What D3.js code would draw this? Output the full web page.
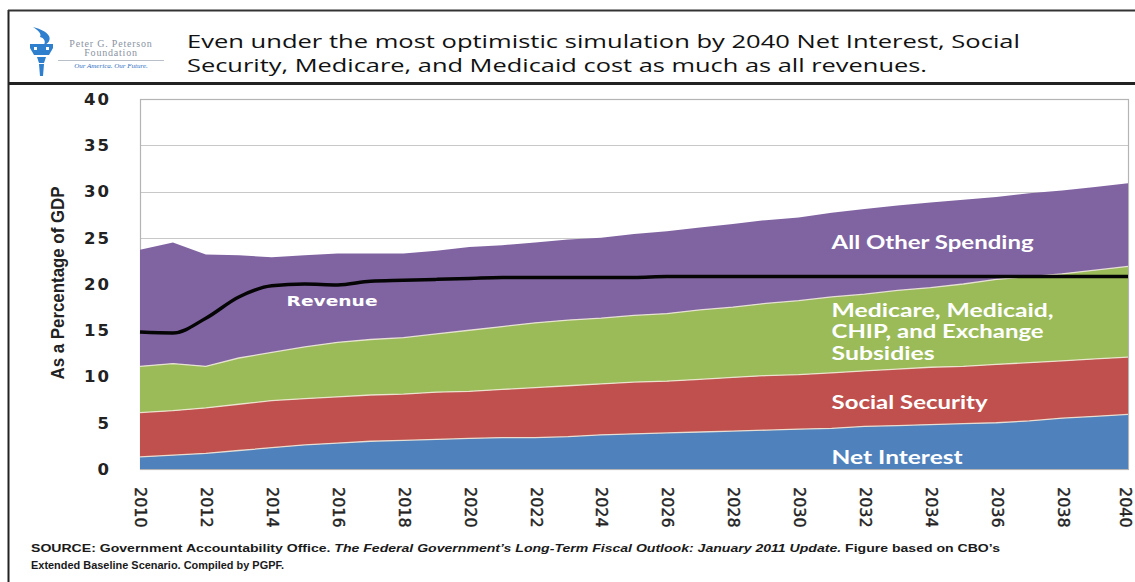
<!DOCTYPE html>
<html>
<head>
<meta charset="utf-8">
<script src="https://cdn.jsdelivr.net/npm/d3@7"></script>
<style>
  body { margin: 0; background: #ffffff; }
  svg { display: block; }
</style>
</head>
<body>
<svg id="chart" width="1135" height="582"></svg>
<script>
// Fiscal years on the horizontal axis
const years = [2010, 2011, 2012, 2013, 2014, 2015, 2016, 2017, 2018, 2019, 2020,
               2021, 2022, 2023, 2024, 2025, 2026, 2027, 2028, 2029, 2030,
               2031, 2032, 2033, 2034, 2035, 2036, 2037, 2038, 2039, 2040];

// Spending components, percent of GDP (stacked bottom to top)
const netInterest    = [1.3, 1.5, 1.7, 2.0, 2.3, 2.6, 2.8, 3.0, 3.1, 3.2, 3.3,
                        3.4, 3.4, 3.5, 3.7, 3.8, 3.9, 4.0, 4.1, 4.2, 4.3,
                        4.4, 4.6, 4.7, 4.8, 4.9, 5.0, 5.2, 5.5, 5.7, 5.9];
const socialSecurity = [4.8, 4.8, 4.9, 5.0, 5.1, 5.0, 5.0, 5.0, 5.0, 5.1, 5.1,
                        5.2, 5.4, 5.5, 5.5, 5.6, 5.6, 5.7, 5.8, 5.9, 5.9,
                        6.0, 6.0, 6.1, 6.2, 6.2, 6.3, 6.3, 6.2, 6.2, 6.2];
const healthPrograms = [5.0, 5.1, 4.5, 5.0, 5.2, 5.6, 5.9, 6.0, 6.1, 6.3, 6.6,
                        6.8, 7.0, 7.1, 7.1, 7.2, 7.3, 7.5, 7.6, 7.8, 8.0,
                        8.2, 8.3, 8.5, 8.6, 8.9, 9.2, 9.3, 9.4, 9.6, 9.8];
const otherSpending  = [12.6, 13.1, 12.1, 11.1, 10.3, 9.9, 9.6, 9.3, 9.1, 9.0, 9.0,
                        8.8, 8.7, 8.7, 8.7, 8.8, 8.9, 8.9, 9.0, 9.0, 9.0,
                        9.1, 9.2, 9.2, 9.2, 9.1, 8.9, 9.0, 9.0, 9.0, 9.0];

// Total federal revenue, percent of GDP
const revenue = [14.8, 14.7, 16.3, 18.6, 19.8, 20.0, 19.9, 20.3, 20.4, 20.5, 20.6,
                 20.7, 20.7, 20.7, 20.7, 20.7, 20.8, 20.8, 20.8, 20.8, 20.8,
                 20.8, 20.8, 20.8, 20.8, 20.8, 20.8, 20.8, 20.8, 20.8, 20.8];

const yTicks = [0, 5, 10, 15, 20, 25, 30, 35, 40];
const xTicks = [2010, 2012, 2014, 2016, 2018, 2020, 2022, 2024, 2026, 2028,
                2030, 2032, 2034, 2036, 2038, 2040];

const seriesKeys   = ["netInterest", "socialSecurity", "healthPrograms", "otherSpending"];
const seriesColors = ["#4f81bd", "#c0504d", "#9bbb59", "#8064a2"];

const table = years.map((yr, i) => ({
  year: yr,
  netInterest: netInterest[i],
  socialSecurity: socialSecurity[i],
  healthPrograms: healthPrograms[i],
  otherSpending: otherSpending[i]
}));

const svg = d3.select("#chart");

const plot = { left: 140, right: 1128, top: 99, bottom: 469 };
const x = d3.scaleLinear().domain([2010, 2040]).range([plot.left, plot.right]);
const y = d3.scaleLinear().domain([0, 40]).range([plot.bottom, plot.top]);

// ---- outer frame and header ----
svg.append("line").attr("x1", 8.5).attr("x2", 8.5).attr("y1", 10).attr("y2", 582)
  .attr("stroke", "#222").attr("stroke-width", 2);
svg.append("line").attr("x1", 8).attr("x2", 1135).attr("y1", 10.5).attr("y2", 10.5)
  .attr("stroke", "#333").attr("stroke-width", 2);
svg.append("line").attr("x1", 8).attr("x2", 1135).attr("y1", 83.5).attr("y2", 83.5)
  .attr("stroke", "#222").attr("stroke-width", 3);

// foundation mark: torch
const logo = svg.append("g").attr("fill", "#2f7fcf");
logo.append("path").attr("d",
  "M33,27 C40,29 46,31 49,36 C51,40 48,44 44,45 C46,41 44,38 40,37 C42,34 38,30 33,27 Z");
logo.append("path").attr("d",
  "M30,44 L53,44 L53,48 L49,55 L34,55 L30,48 Z");
logo.append("path").attr("d",
  "M37,57 L46,57 L44,63 L39,63 Z");
logo.append("path").attr("d",
  "M39,64 L44,64 L43,76 L40,76 Z");
logo.append("rect").attr("x", 34).attr("y", 47).attr("width", 3).attr("height", 3).attr("fill", "#fff");
logo.append("rect").attr("x", 46).attr("y", 47).attr("width", 3).attr("height", 3).attr("fill", "#fff");

const logoText = svg.append("g").attr("text-anchor", "middle");
logoText.append("text").attr("x", 111).attr("y", 47)
  .attr("font-family", "Liberation Serif, serif").attr("font-size", 10)
  .attr("fill", "#8a93a2").attr("letter-spacing", 0.8).text("Peter G. Peterson");
logoText.append("text").attr("x", 111).attr("y", 56)
  .attr("font-family", "Liberation Serif, serif").attr("font-size", 10)
  .attr("fill", "#8a93a2").attr("letter-spacing", 0.8).text("Foundation");
svg.append("line").attr("x1", 58).attr("x2", 164).attr("y1", 60.5).attr("y2", 60.5)
  .attr("stroke", "#9aa3b0").attr("stroke-width", 0.7);
logoText.append("text").attr("x", 111).attr("y", 68)
  .attr("font-family", "Liberation Serif, serif").attr("font-size", 7).attr("font-style", "italic")
  .attr("fill", "#2f6fbf").text("Our America. Our Future.");

// title
const title = svg.append("g")
  .attr("font-family", "Open Sans, Noto Sans, sans-serif")
  .attr("font-size", 19).attr("fill", "#111");
title.append("text").attr("x", 187).attr("y", 48)
  .attr("textLength", 833).attr("lengthAdjust", "spacingAndGlyphs")
  .text("Even under the most optimistic simulation by 2040 Net Interest, Social");
title.append("text").attr("x", 187).attr("y", 72)
  .attr("textLength", 740).attr("lengthAdjust", "spacingAndGlyphs")
  .text("Security, Medicare, and Medicaid cost as much as all revenues.");

// ---- gridlines and plot border ----
svg.append("g").selectAll("line")
  .data(yTicks.filter(d => d > 0 && d < 40))
  .join("line")
  .attr("x1", plot.left).attr("x2", plot.right)
  .attr("y1", d => Math.round(y(d)) + 0.5).attr("y2", d => Math.round(y(d)) + 0.5)
  .attr("stroke", "#c8c8c8").attr("stroke-width", 1.2);

svg.append("rect")
  .attr("x", plot.left + 0.5).attr("y", plot.top + 0.5)
  .attr("width", plot.right - plot.left).attr("height", plot.bottom - plot.top)
  .attr("fill", "none").attr("stroke", "#b4b4b4").attr("stroke-width", 1.2);

// ---- stacked areas ----
const stacked = d3.stack().keys(seriesKeys)(table);

const area = d3.area()
  .x(d => x(d.data.year))
  .y0(d => y(d[0]))
  .y1(d => y(d[1]));

svg.append("g").selectAll("path")
  .data(stacked)
  .join("path")
  .attr("d", area)
  .attr("fill", (d, i) => seriesColors[i]);

// light seams between layers
const topLine = d3.line().x(d => x(d.data.year)).y(d => y(d[1]));
svg.append("g").selectAll("path")
  .data(stacked.slice(0, 3))
  .join("path")
  .attr("d", topLine)
  .attr("fill", "none")
  .attr("stroke", "#f2ecdc")
  .attr("stroke-opacity", 0.85)
  .attr("stroke-width", 1.3);

// ---- revenue line ----
const revLine = d3.line()
  .x((d, i) => x(years[i]))
  .y(d => y(d))
  .curve(d3.curveMonotoneX);
svg.append("path")
  .datum(revenue)
  .attr("d", revLine)
  .attr("fill", "none")
  .attr("stroke", "#050505")
  .attr("stroke-width", 3.5)
  .attr("stroke-linejoin", "round");

// ---- axes ----
const yAxis = svg.append("g")
  .attr("transform", `translate(${plot.left},0)`)
  .call(d3.axisLeft(y).tickValues(yTicks).tickSize(0).tickPadding(29));
yAxis.select(".domain").remove();
yAxis.selectAll("text")
  .attr("font-family", "DejaVu Sans, Verdana, sans-serif")
  .attr("font-weight", "bold")
  .attr("font-size", 16.5)
  .attr("letter-spacing", 2)
  .attr("fill", "#222");

const xAxis = svg.append("g")
  .attr("transform", `translate(0,${plot.bottom})`)
  .call(d3.axisBottom(x).tickValues(xTicks).tickFormat(d3.format("d")).tickSize(0));
xAxis.select(".domain").remove();
xAxis.selectAll("text")
  .attr("transform", "rotate(90)")
  .attr("x", 18)
  // keep the last year label inside the right edge
  .attr("y", d => d === 2040 ? 3 : 0)
  .attr("dy", "0.32em")
  .attr("text-anchor", "start")
  .attr("font-family", "DejaVu Sans, Verdana, sans-serif")
  .attr("font-size", 16)
  .attr("stroke", "#222").attr("stroke-width", 0.4)
  .attr("fill", "#222");

svg.append("text")
  .attr("transform", "translate(64,283) rotate(-90)")
  .attr("text-anchor", "middle")
  .attr("font-family", "Liberation Sans Narrow, Liberation Sans, Arial, sans-serif")
  .attr("font-weight", "bold")
  .attr("font-size", 18)
  .attr("fill", "#222")
  .attr("textLength", 193).attr("lengthAdjust", "spacingAndGlyphs")
  .text("As a Percentage of GDP");

// ---- in-chart labels ----
const labels = [
  { text: "Revenue",              yr: 2014.45, v: 18.2, w: 91,  font: "DejaVu Sans, Verdana, sans-serif", size: 14 },
  { text: "All Other Spending",   yr: 2031,    v: 24.5, w: 202, font: "Lato, Open Sans, sans-serif", size: 18 },
  { text: "Medicare, Medicaid,",  yr: 2031,    v: 17.1, w: 222, font: "Lato, Open Sans, sans-serif", size: 18 },
  { text: "CHIP, and Exchange",   yr: 2031,    v: 14.8, w: 212, font: "Lato, Open Sans, sans-serif", size: 18 },
  { text: "Subsidies",            yr: 2031,    v: 12.5, w: 103, font: "Lato, Open Sans, sans-serif", size: 18 },
  { text: "Social Security",      yr: 2031,    v: 7.2,  w: 156, font: "Lato, Open Sans, sans-serif", size: 18 },
  { text: "Net Interest",         yr: 2031,    v: 1.2,  w: 131, font: "Lato, Open Sans, sans-serif", size: 18 }
];
svg.append("g").selectAll("text")
  .data(labels)
  .join("text")
  .attr("x", d => x(d.yr))
  .attr("y", d => y(d.v))
  .attr("dy", "0.35em")
  .attr("font-family", d => d.font)
  .attr("font-size", d => d.size)
  .attr("font-weight", "bold")
  .attr("fill", "#ffffff")
  .attr("textLength", d => d.w)
  .attr("lengthAdjust", "spacingAndGlyphs")
  .text(d => d.text);

// ---- source note ----
const note = svg.append("g")
  .attr("font-family", "Liberation Sans Narrow, Liberation Sans, Arial, sans-serif")
  .attr("font-weight", "bold")
  .attr("font-size", 11.5)
  .attr("fill", "#1a1a1a");
const line1 = note.append("text").attr("x", 31).attr("y", 552)
  .attr("textLength", 969).attr("lengthAdjust", "spacingAndGlyphs");
line1.append("tspan").text("SOURCE: Government Accountability Office. ");
line1.append("tspan").attr("font-style", "italic")
  .text("The Federal Government\u2019s Long-Term Fiscal Outlook: January 2011 Update.");
line1.append("tspan").text(" Figure based on CBO\u2019s");
note.append("text").attr("x", 31).attr("y", 569)
  .attr("textLength", 253).attr("lengthAdjust", "spacingAndGlyphs")
  .text("Extended Baseline Scenario. Compiled by PGPF.");
</script>
</body>
</html>
